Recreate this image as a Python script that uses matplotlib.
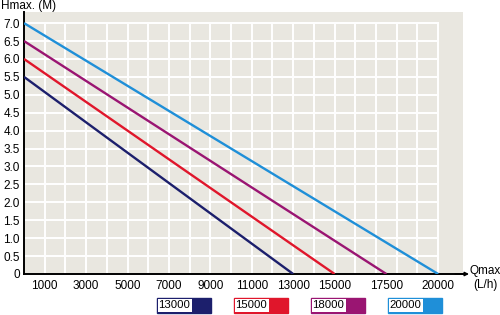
import matplotlib
matplotlib.use('Agg')
import matplotlib.pyplot as plt
from matplotlib.patches import Rectangle

#==============================================================================
# Data
#==============================================================================
models = ['13000', '15000', '18000', '20000']
h_max = [5.5, 6.0, 6.5, 7.0]              # head at zero flow (M)
q_max = [13000, 15000, 17500, 20000]      # flow at zero head (L/h)
colors = ['#1c1f6c', '#e0162b', '#9a1572', '#1f8fd8']

x_ticks = [1000, 3000, 5000, 7000, 9000, 11000, 13000, 15000, 17500, 20000]
y_ticks = [0, 0.5, 1.0, 1.5, 2.0, 2.5, 3.0, 3.5, 4.0, 4.5, 5.0, 5.5, 6.0, 6.5, 7.0]
y_labels = ['0'] + [f'{v:.1f}' for v in y_ticks[1:]]

plt.rcParams['font.family'] = ['Liberation Sans', 'DejaVu Sans']

fig = plt.figure(figsize=(5, 3.15), dpi=100)
W, H = 500, 315

# axes box in pixels: left 24, right 463, top 12, bottom 274
ax = fig.add_axes([24 / W, 1 - 274 / H, (463 - 24) / W, (274 - 12) / H])
ax.set_xlim(0, 21200)
ax.set_ylim(0, 7.31)
ax.set_facecolor('#e9e7e0')

# white grid only inside the 0..20000 x 0..7 range
for gx in range(1000, 20001, 1000):
    ax.plot([gx, gx], [0, 7.0], color='white', lw=1.4, zorder=1)
for gy in y_ticks[1:]:
    ax.plot([0, 20000], [gy, gy], color='white', lw=1.4, zorder=1)

# pump curves
for h, q, c in zip(h_max, q_max, colors):
    ax.plot([0, q], [h, 0], color=c, lw=1.7, zorder=3, solid_capstyle='butt')

ax.set_xticks(x_ticks)
ax.set_yticks(y_ticks)
ax.set_yticklabels(y_labels)
ax.tick_params(length=0, labelsize=8.5, pad=4)
ax.tick_params(axis='y', pad=3)

for s in ['top', 'right']:
    ax.spines[s].set_visible(False)
ax.spines['left'].set_linewidth(1.4)
ax.spines['bottom'].set_linewidth(1.4)

# arrow on the x axis
ax.annotate('', xy=(469 / W, 1 - 274 / H), xytext=(455 / W, 1 - 274 / H),
            xycoords='figure fraction',
            arrowprops=dict(arrowstyle='-|>', color='black', lw=1.0,
                            mutation_scale=6, shrinkA=0, shrinkB=0))

fig.text(1 / W, 1 - 6 / H, 'Hmax. (M)', fontsize=8.5, va='center', ha='left')
fig.text(485 / W, 1 - 271 / H, 'Qmax', fontsize=8.5, va='center', ha='center')
fig.text(485 / W, 1 - 285 / H, '(L/h)', fontsize=8.5, va='center', ha='center')

# legend boxes along the bottom
box_left = [157, 234, 311, 388]
box_w, txt_w, box_h, box_top = 54, 35, 15, 298
for name, c, x0 in zip(models, colors, box_left):
    y0 = 1 - (box_top + box_h) / H
    fig.patches.append(Rectangle((x0 / W, y0), box_w / W, box_h / H,
                                 transform=fig.transFigure, facecolor=c,
                                 edgecolor=c, lw=1.0))
    fig.patches.append(Rectangle(((x0 + 1) / W, y0 + 1 / H), (txt_w - 1) / W, (box_h - 2) / H,
                                 transform=fig.transFigure, facecolor='white',
                                 edgecolor='none'))
    fig.text((x0 + 1.5) / W, 1 - (box_top + box_h / 2) / H, name, fontsize=8.2,
             va='center', ha='left')

plt.savefig('out.png', dpi=100)
